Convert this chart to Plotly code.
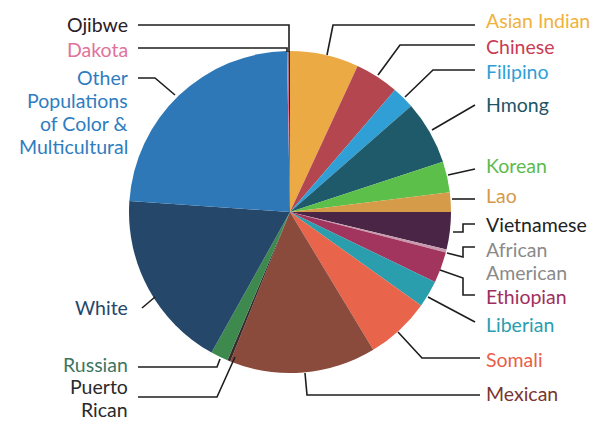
import plotly.graph_objects as go

# ---- data (percent share, clockwise from 12 o'clock) ----
groups = ["Asian Indian", "Chinese", "Filipino", "Hmong", "Korean", "Lao",
          "Vietnamese", "African American", "Ethiopian", "Liberian", "Somali",
          "Mexican", "Puerto Rican", "Russian", "White",
          "Other Populations of Color & Multicultural", "Dakota", "Ojibwe"]
shares = [6.9, 4.4, 2.25, 6.4, 3.1, 1.95, 3.75, 0.3, 3.1, 2.7, 6.5,
          14.7, 0.3, 1.75, 18.0, 23.6, 0.15, 0.15]
slice_colors = ["#EBAA43", "#B4464F", "#2F9FD5", "#1F5A6A", "#5CBF4A", "#D59B49",
                "#4A2546", "#C99AAE", "#A1355E", "#2A9EAD", "#E8654B",
                "#8A4B3D", "#3A2A2E", "#3E8A4E", "#24476A",
                "#2F78B7", "#E06B95", "#2A2A2A"]

# ---- label text & style (layout) ----
label_lines = [["Asian Indian"], ["Chinese"], ["Filipino"], ["Hmong"], ["Korean"], ["Lao"],
               ["Vietnamese"], ["African", "American"], ["Ethiopian"], ["Liberian"], ["Somali"],
               ["Mexican"], ["Puerto", "Rican"], ["Russian"], ["White"],
               ["Other", "Populations", "of Color &", "Multicultural"], ["Dakota"], ["Ojibwe"]]
label_colors = ["#F0B23C", "#C93C54", "#2E9FD6", "#1E5566", "#5DBB4E", "#D49A4A",
                "#222222", "#8A8A8A", "#9E2E5E", "#2A9DAE", "#E8604A",
                "#7A3530", "#2A2A2A", "#3E7560", "#24476A",
                "#2E7DC0", "#E0739A", "#2A2026"]
# first-line (x, y) in reference px, anchor side
label_pos = [(484, 20, "left"), (484, 46, "left"), (484, 71, "left"), (484, 104, "left"),
             (484, 165, "left"), (484, 195, "left"), (484, 224, "left"), (484, 249, "left"),
             (484, 296, "left"), (484, 324, "left"), (484, 359, "left"), (484, 393, "left"),
             (130, 386, "right"), (130, 364, "right"), (130, 307, "right"),
             (130, 77, "right"), (130, 49, "right"), (130, 24, "right")]
line_step = 23
# leader line paths in reference px
leader_paths = [
    [(327, 55), (333, 25), (475, 25)],
    [(378, 75), (400, 45), (475, 45)],
    [(405, 97), (433, 70), (475, 70)],
    [(432, 130), (475, 105)],
    [(448, 175), (475, 169)],
    [(452, 199), (475, 199)],
    [(453, 232), (463, 232), (463, 224), (475, 224)],
    [(447, 253), (463, 257), (463, 247), (475, 247)],
    [(440, 270), (463, 278), (463, 295), (475, 295)],
    [(428, 297), (475, 322)],
    [(398, 332), (422, 358), (480, 358)],
    [(305, 373), (307, 395), (480, 395)],
    [(235, 357), (217, 397), (138, 397)],
    [(220, 359), (217, 367), (138, 367)],
    [(155, 297), (142, 308)],
    [(175, 95), (155, 78), (138, 78)],
    [(287, 52), (287, 48), (138, 48)],
    [(289, 52), (289, 25), (138, 25)],
]

W, H = 599, 421
OFF = 8  # page offset of the figure inside the browser window
cx, cy, r = 290, 212, 161

fig = go.Figure()
fig.add_trace(go.Pie(
    labels=groups, values=shares, sort=False, direction="clockwise", rotation=0,
    marker=dict(colors=slice_colors, line=dict(width=0)),
    textinfo="none", hoverinfo="label+percent", showlegend=False,
    domain=dict(x=[(cx - OFF - r) / W, (cx - OFF + r) / W],
                y=[1 - (cy - OFF + r) / H, 1 - (cy - OFF - r) / H]),
))

shapes = []
for path in leader_paths:
    d = "M " + " L ".join(f"{x},{y}" for x, y in path)
    shapes.append(dict(type="path", path=d, xref="x", yref="y",
                       line=dict(color="#1E1E1E", width=1.6), layer="above"))

annotations = []
for lines, col, (x, y, side) in zip(label_lines, label_colors, label_pos):
    for i, txt in enumerate(lines):
        annotations.append(dict(
            x=x, y=y + i * line_step, xref="x", yref="y", text=txt, showarrow=False,
            xanchor=side, yanchor="middle", align=side,
            font=dict(family="Lato, sans-serif", size=19.5, color=col)))

fig.update_layout(
    width=W, height=H, margin=dict(l=0, r=0, t=0, b=0),
    paper_bgcolor="white", plot_bgcolor="white",
    xaxis=dict(range=[OFF, W + OFF], visible=False, fixedrange=True),
    yaxis=dict(range=[H + OFF, OFF], visible=False, fixedrange=True),
    shapes=shapes, annotations=annotations,
)
fig.write_html("out.html")
